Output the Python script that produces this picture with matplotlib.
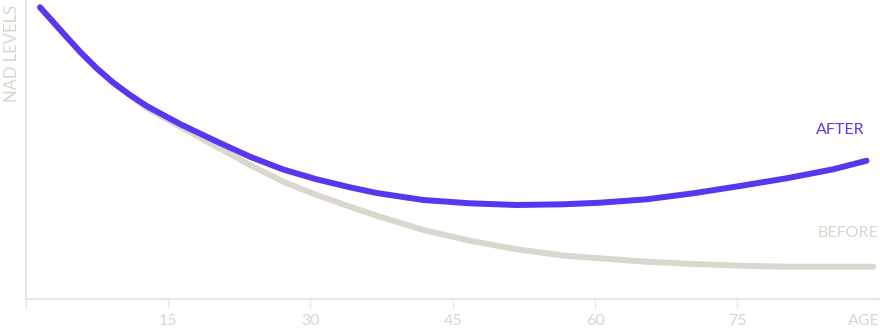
import matplotlib
matplotlib.use('Agg')
import matplotlib.pyplot as plt

plt.rcParams['font.family'] = ['Lato', 'DejaVu Sans']

# values (age, NAD level in chart units)
after_age = [1.51, 3.96, 5.72, 7.48, 9.23, 10.99, 12.75, 14.50, 16.26, 20.13,
             23.64, 27.14, 30.66, 34.17, 36.99, 41.90, 46.82, 51.74, 56.65,
             60.52, 65.44, 70.35, 75.27, 80.19, 85.10, 88.62]
after_lvl = [291.7, 265.7, 247.3, 230.7, 216.3, 204.0, 193.0, 184.0, 175.0, 157.5,
             142.3, 129.5, 119.7, 111.7, 106.0, 99.0, 95.7, 94.0, 94.7,
             96.3, 99.7, 105.7, 113.0, 120.7, 129.7, 138.3]

before_age = [1.51, 3.96, 5.72, 7.48, 9.23, 10.99, 12.75, 16.61, 20.13, 23.64,
              27.14, 30.66, 34.17, 36.99, 41.90, 46.82, 51.74, 56.65, 60.52,
              65.44, 70.35, 75.27, 80.19, 85.10, 89.31]
before_lvl = [291.7, 265.7, 247.3, 230.7, 216.0, 203.5, 191.0, 170.5, 152.3, 134.0,
              117.3, 104.0, 92.3, 83.3, 69.0, 58.3, 49.7, 43.5, 40.7,
              37.3, 35.0, 33.3, 32.3, 32.3, 32.3]

xticks = [0, 15, 30, 45, 60, 75, 90]
xtick_labels = ['', '15', '30', '45', '60', '75', 'AGE']

purple = '#5a36f0'
grey_line = '#dbd7cf'
grey_text = '#d9d5cd'
spine_col = '#e8e6e1'

fig = plt.figure(figsize=(8.8, 3.3), dpi=100)
ax = fig.add_axes([25.7 / 880, 31 / 330, 854 / 880, 298 / 330])

ax.plot(before_age, before_lvl, color=grey_line, lw=4.3,
        solid_capstyle='round', solid_joinstyle='round')
ax.plot(after_age, after_lvl, color=purple, lw=4.3,
        solid_capstyle='round', solid_joinstyle='round')

ax.set_xlim(0, 90)
ax.set_ylim(0, 298)

for s in ['top', 'right']:
    ax.spines[s].set_visible(False)
for s in ['left', 'bottom']:
    ax.spines[s].set_color(spine_col)
    ax.spines[s].set_linewidth(1.5)

ax.set_yticks([])
ax.set_xticks(xticks)
ax.set_xticklabels(xtick_labels)
ax.tick_params(axis='x', length=6.5, width=1, color=spine_col, pad=4,
               labelsize=11.5, labelcolor=grey_text)
ax.get_xticklabels()[-1].set_ha('right')

ax.annotate('AFTER', (after_age[-1], after_lvl[-1]), xytext=(-1.4, 22),
            textcoords='offset points', ha='right', va='center',
            color=purple, fontsize=11.5, annotation_clip=False)
ax.annotate('BEFORE', (before_age[-1], before_lvl[-1]), xytext=(3.6, 24.5),
            textcoords='offset points', ha='right', va='center',
            color=grey_text, fontsize=11.5, annotation_clip=False)

fig.text(12 / 880, 1 - 5 / 330, 'NAD LEVELS', rotation=90, ha='center', va='top',
         color=grey_text, fontsize=12)

fig.savefig('out.png', dpi=100)
